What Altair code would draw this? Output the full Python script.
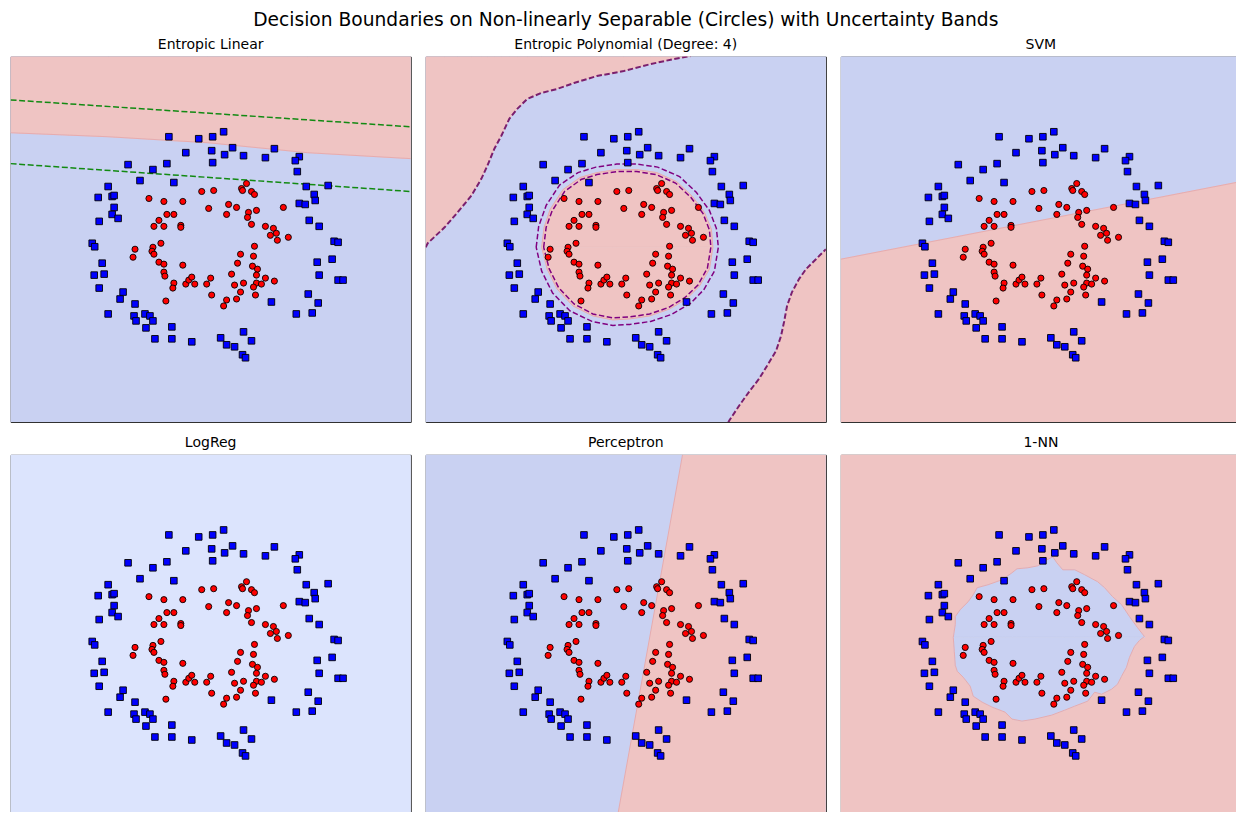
import altair as alt
import pandas as pd

TITLE = "Decision Boundaries on Non-linearly Separable (Circles) with Uncertainty Bands"
panel_titles = ["Entropic Linear", "Entropic Polynomial (Degree: 4)", "SVM",
                "LogReg", "Perceptron", "1-NN"]

x_domain = [-2.01, 2.01]
y_domain = [-1.835, 1.835]

# ---- samples: outer ring (class 0, squares) ----
blue_x = [-0.42, -0.83, -0.58, -0.44, -0.71, -0.37, -1.03, -1.13, -0.99, -0.97, -0.97, -0.99, -0.93, -1.12,
          -0.12, 0.02, 0.13, -0.25, 0.01, 0.14, 0.22, 0.33, 0.02, 0.55,
          0.64, 0.89, 0.85, 0.87, 0.96, 1.18, 1.04, 1.05, 0.89, 0.95, 0.99, 1.09, 1.24, 1.28,
          -1.19, -1.165, -1.09, -1.17, -1.07, -1.12, -0.88, -0.91, -0.76, -1.03, -0.77, -0.75, -0.66, -0.61,
          -0.58, -0.65, -0.56, -0.39, -0.39,
          -0.19, 0.10, 0.16, 0.24, 0.33, 0.41, 0.32, 0.35,
          1.07, 1.22, 1.09, 1.28, 1.33, 0.98, 1.08, 0.61, 0.86, 1.02]
blue_y = [1.03, 0.75, 0.70, 0.76, 0.59, 0.57, 0.53, 0.42, 0.43, 0.44, 0.32, 0.25, 0.21, 0.18,
          1.01, 1.03, 1.08, 0.87, 0.89, 0.85, 0.92, 0.84, 0.77, 0.82,
          0.91, 0.83, 0.79, 0.68, 0.53, 0.54, 0.45, 0.39, 0.36, 0.35, 0.19, 0.13, -0.02, -0.03,
          -0.04, -0.075, -0.24, -0.36, -0.35, -0.49, -0.53, -0.60, -0.65, -0.75, -0.77, -0.82, -0.75, -0.77,
          -0.82, -0.89, -1.00, -0.88, -1.00,
          -1.03, -0.99, -1.06, -1.08, -0.93, -1.02, -1.16, -1.19,
          -0.23, -0.20, -0.36, -0.41, -0.41, -0.55, -0.64, -0.63, -0.75, -0.74]

# ---- samples: inner ring (class 1, circles) ----
red_x = [-0.62, -0.47, -0.44, -0.37, -0.52, -0.57, -0.47, -0.50,
         -0.09, 0.03, 0.36, 0.31, 0.32, 0.41, 0.44, -0.28, -0.02, 0.18, 0.26, 0.16, 0.38, 0.46, 0.37,
         -0.30, -0.30, 0.41, 0.55, 0.44,
         0.73, 0.63, 0.66, 0.60, 0.67, 0.78,
         -0.76, -0.78, -0.58, -0.59, -0.57, -0.52, -0.47, -0.47, -0.46, -0.37, -0.38, -0.45,
         0.43, 0.30, 0.27, 0.42, 0.47, 0.46, 0.55, -0.28, 0.21, -0.25, -0.22, -0.19, -0.16, -0.04, 0.00,
         0.01, 0.24, 0.33, 0.46, 0.51, 0.43, 0.30, 0.45, 0.26, 0.16, 0.13,
         0.64]
red_y = [0.41, 0.38, 0.25, 0.25, 0.19, 0.13, 0.13, -0.04,
         0.48, 0.49, 0.56, 0.51, 0.49, 0.48, 0.45, 0.38, 0.31, 0.35, 0.32, 0.25, 0.27, 0.29, 0.22,
         0.14, 0.12, 0.15, 0.13, -0.07,
         0.32, 0.11, 0.06, 0.04, -0.01, 0.02,
         -0.10, -0.18, -0.08, -0.12, -0.15, -0.23, -0.25, -0.33, -0.37, -0.44, -0.49, -0.62,
         -0.17, -0.15, -0.24, -0.27, -0.30, -0.36, -0.39, -0.26, -0.35, -0.45, -0.41, -0.38, -0.45, -0.45, -0.39,
         -0.56, -0.46, -0.44, -0.44, -0.45, -0.48, -0.53, -0.56, -0.60, -0.61, -0.67,
         -0.42]

# ---- Entropic Linear: boundary and uncertainty band ----
lin_x = [-2.01, -1.03, -0.03, 0.97, 2.01]
lin_y = [1.07, 1.03, 0.97, 0.87, 0.81]
band_x = [-2.01, 2.01]
band_up_y = [1.40, 1.13]
band_lo_y = [0.76, 0.48]

# ---- Entropic Polynomial: boundaries ----
s1_x = [-2.01, -1.99, -1.82, -1.69, -1.55, -1.45, -1.39, -1.32, -1.25, -1.17, -1.09, -0.99, -0.85,
        -0.69, -0.52, -0.29, -0.02, 0.25, 0.48, 0.65]
s1_y = [-0.08, -0.04, 0.12, 0.27, 0.44, 0.61, 0.74, 0.91, 1.04, 1.21, 1.31, 1.41, 1.47,
        1.51, 1.57, 1.64, 1.69, 1.76, 1.81, 1.84]
s2_x = [1.03, 1.04, 1.14, 1.24, 1.34, 1.42, 1.51, 1.56, 1.59, 1.62, 1.67, 1.74, 1.81, 1.91, 2.01]
s2_y = [-1.84, -1.82, -1.67, -1.53, -1.40, -1.27, -1.12, -0.97, -0.83, -0.67, -0.53, -0.40, -0.30, -0.20, -0.10]

e_top_x = [-0.845, -0.82, -0.76, -0.63, -0.46, -0.29, -0.09, 0.11, 0.31, 0.51, 0.67, 0.79, 0.86, 0.875]
e_top_y = [-0.08, 0.12, 0.30, 0.50, 0.62, 0.67, 0.70, 0.70, 0.67, 0.58, 0.43, 0.27, 0.10, -0.08]
e_bot_x = [-0.845, -0.79, -0.69, -0.53, -0.33, -0.13, 0.04, 0.24, 0.44, 0.61, 0.74, 0.84, 0.875]
e_bot_y = [-0.08, -0.30, -0.50, -0.67, -0.77, -0.81, -0.80, -0.77, -0.70, -0.60, -0.47, -0.30, -0.08]
e_mid_y = -0.08

o_top_x = [-0.90, -0.875, -0.80, -0.665, -0.48, -0.30, -0.09, 0.11, 0.32, 0.54, 0.71, 0.84, 0.91, 0.93]
o_top_y = [-0.08, 0.13, 0.34, 0.545, 0.67, 0.725, 0.755, 0.755, 0.725, 0.63, 0.47, 0.29, 0.11, -0.08]
o_bot_x = [-0.90, -0.845, -0.735, -0.56, -0.34, -0.13, 0.04, 0.25, 0.46, 0.65, 0.785, 0.89, 0.93]
o_bot_y = [-0.08, -0.32, -0.54, -0.72, -0.825, -0.865, -0.855, -0.825, -0.755, -0.645, -0.505, -0.32, -0.08]

i_top_x = [-0.825, -0.80, -0.74, -0.615, -0.45, -0.29, -0.09, 0.11, 0.305, 0.50, 0.655, 0.775, 0.84, 0.855]
i_top_y = [-0.08, 0.12, 0.285, 0.48, 0.60, 0.65, 0.68, 0.68, 0.65, 0.565, 0.42, 0.26, 0.095, -0.08]
i_bot_x = [-0.825, -0.77, -0.675, -0.52, -0.33, -0.13, 0.04, 0.24, 0.43, 0.595, 0.725, 0.82, 0.855]
i_bot_y = [-0.08, -0.295, -0.485, -0.65, -0.75, -0.79, -0.78, -0.75, -0.685, -0.585, -0.46, -0.29, -0.08]

# ---- SVM and Perceptron linear boundaries ----
svm_x = [-2.01, 2.01]
svm_y = [-0.20, 0.58]
perc_y = [-1.835, 1.835]
perc_x = [-0.09, 0.57]

# ---- 1-NN region ----
nn_top_x = [-0.88, -0.86, -0.86, -0.81, -0.73, -0.68, -0.64, -0.53, -0.39, -0.29, -0.24, -0.13, -0.03,
            0.06, 0.12, 0.16, 0.22, 0.34, 0.44, 0.57, 0.64, 0.72, 0.81, 0.89, 0.97, 1.04]
nn_top_y = [0.00, 0.13, 0.21, 0.28, 0.36, 0.43, 0.50, 0.53, 0.58, 0.65, 0.69, 0.70, 0.72,
            0.78, 0.81, 0.75, 0.68, 0.68, 0.63, 0.56, 0.50, 0.41, 0.33, 0.21, 0.10, 0.01]
nn_bot_x = [-0.88, -0.87, -0.86, -0.84, -0.78, -0.71, -0.68, -0.59, -0.49, -0.36, -0.29, -0.19, -0.06,
            0.11, 0.24, 0.34, 0.47, 0.54, 0.61, 0.71, 0.77, 0.81, 0.86, 0.89, 0.94, 0.99, 1.04]
nn_bot_y = [0.00, -0.14, -0.28, -0.34, -0.40, -0.49, -0.59, -0.65, -0.70, -0.75, -0.82, -0.84, -0.82,
            -0.78, -0.73, -0.69, -0.64, -0.55, -0.57, -0.52, -0.47, -0.39, -0.30, -0.20, -0.09, -0.03, 0.01]
nn_mid_y = 0.0

RED = "#efc4c3"
BLUE = "#c9d1f2"
PALE = "#dce4fd"
EDGE = "#e6abae"
PURPLE = "#800080"
PURPLE_DARK = "#7a1f6e"
GREEN = "#128a12"


def X(field="x"):
    return alt.X(field, type="quantitative",
                 scale=alt.Scale(domain=x_domain, nice=False, zero=False), axis=None)


def Y(field="y"):
    return alt.Y(field, type="quantitative",
                 scale=alt.Scale(domain=y_domain, nice=False, zero=False), axis=None)


def background(color):
    df = pd.DataFrame({"x": [x_domain[0]], "x2": [x_domain[1]],
                       "y": [y_domain[0]], "y2": [y_domain[1]]})
    return alt.Chart(df).mark_rect(color=color, opacity=1).encode(
        x=X(), x2="x2:Q", y=Y(), y2="y2:Q")


def region(xs, ys, y_edge, color):
    df = pd.DataFrame({"x": xs, "y": ys, "y2": [y_edge] * len(xs)})
    return alt.Chart(df).mark_area(color=color, opacity=1, clip=True,
                                   stroke=color, strokeWidth=0.6).encode(
        x=X(), y=Y(), y2="y2:Q")


def hregion(ys, xs, x_edge, color):
    df = pd.DataFrame({"x": xs, "y": ys, "x2": [x_edge] * len(ys)})
    return alt.Chart(df).mark_area(orient="horizontal", color=color, opacity=1, clip=True).encode(
        y=Y(), x=X(), x2="x2:Q")


def path(xs, ys, color, width, dash=None, opacity=1.0):
    df = pd.DataFrame({"x": xs, "y": ys, "i": list(range(len(xs)))})
    props = dict(color=color, strokeWidth=width, clip=True, opacity=opacity)
    if dash:
        props["strokeDash"] = dash
    return alt.Chart(df).mark_line(**props).encode(x=X(), y=Y(), order=alt.Order("i:Q"))


def samples():
    b = alt.Chart(pd.DataFrame({"x": blue_x, "y": blue_y})).mark_square(
        size=44, color="#0000ff", stroke="black", strokeWidth=0.9, opacity=1).encode(x=X(), y=Y())
    r = alt.Chart(pd.DataFrame({"x": red_x, "y": red_y})).mark_circle(
        size=38, color="#ff0000", stroke="black", strokeWidth=0.9, opacity=1).encode(x=X(), y=Y())
    return [b, r]


def panel(title, layers):
    return alt.layer(*layers).properties(width=402, height=367, title=title)


def loop(tx, ty, bx, by):
    return tx + bx[::-1][1:], ty + by[::-1][1:]


p1 = panel(panel_titles[0], [
    background(BLUE),
    region(lin_x, lin_y, y_domain[1], RED),
    path(lin_x, lin_y, EDGE, 1),
    path(band_x, band_up_y, GREEN, 1.5, [6, 2.6]),
    path(band_x, band_lo_y, GREEN, 1.5, [6, 2.6]),
] + samples())

ox, oy = loop(o_top_x, o_top_y, o_bot_x, o_bot_y)
ix, iy = loop(i_top_x, i_top_y, i_bot_x, i_bot_y)
ex, ey = loop(e_top_x, e_top_y, e_bot_x, e_bot_y)
p2 = panel(panel_titles[1], [
    background(BLUE),
    region(s1_x, s1_y, y_domain[1], RED),
    region(s2_x, s2_y, y_domain[0], RED),
    region(e_top_x, e_top_y, e_mid_y, RED),
    region(e_bot_x, e_bot_y, e_mid_y, RED),
    path(ex, ey, EDGE, 1),
    path(ox, oy, PURPLE, 1.5, [5.5, 2.5]),
    path(ix, iy, PURPLE, 1.5, [5.5, 2.5]),
    path(s1_x, s1_y, PURPLE_DARK, 2.0, [5.5, 2.5]),
    path(s2_x, s2_y, PURPLE_DARK, 2.0, [5.5, 2.5]),
] + samples())

p3 = panel(panel_titles[2], [
    background(BLUE),
    region(svm_x, svm_y, y_domain[0], RED),
    path(svm_x, svm_y, EDGE, 1),
] + samples())

p4 = panel(panel_titles[3], [background(PALE)] + samples())

p5 = panel(panel_titles[4], [
    background(BLUE),
    hregion(perc_y, perc_x, x_domain[1], RED),
    path(perc_x, perc_y, EDGE, 1),
] + samples())

nx, ny = loop(nn_top_x, nn_top_y, nn_bot_x, nn_bot_y)
p6 = panel(panel_titles[5], [
    background(RED),
    region(nn_top_x, nn_top_y, nn_mid_y, BLUE),
    region(nn_bot_x, nn_bot_y, nn_mid_y, BLUE),
    path(nx, ny, EDGE, 1),
] + samples())

row1 = alt.hconcat(p1, p2, p3, spacing=13)
row2 = alt.hconcat(p4, p5, p6, spacing=13)

chart = alt.vconcat(row1, row2, spacing=12).properties(
    title=alt.TitleParams(TITLE, fontSize=18.75, font="DejaVu Sans", fontWeight="normal",
                          anchor="middle", offset=7.8, color="black"),
    padding={"left": 1.6, "top": 0, "right": -6, "bottom": -11},
).configure_view(
    stroke="#222222", strokeWidth=1
).configure_title(
    font="DejaVu Sans", fontSize=14.1, fontWeight="normal", color="black", anchor="middle", offset=5
)

chart.save("out.html", embed_options={"renderer": "svg", "actions": False})
